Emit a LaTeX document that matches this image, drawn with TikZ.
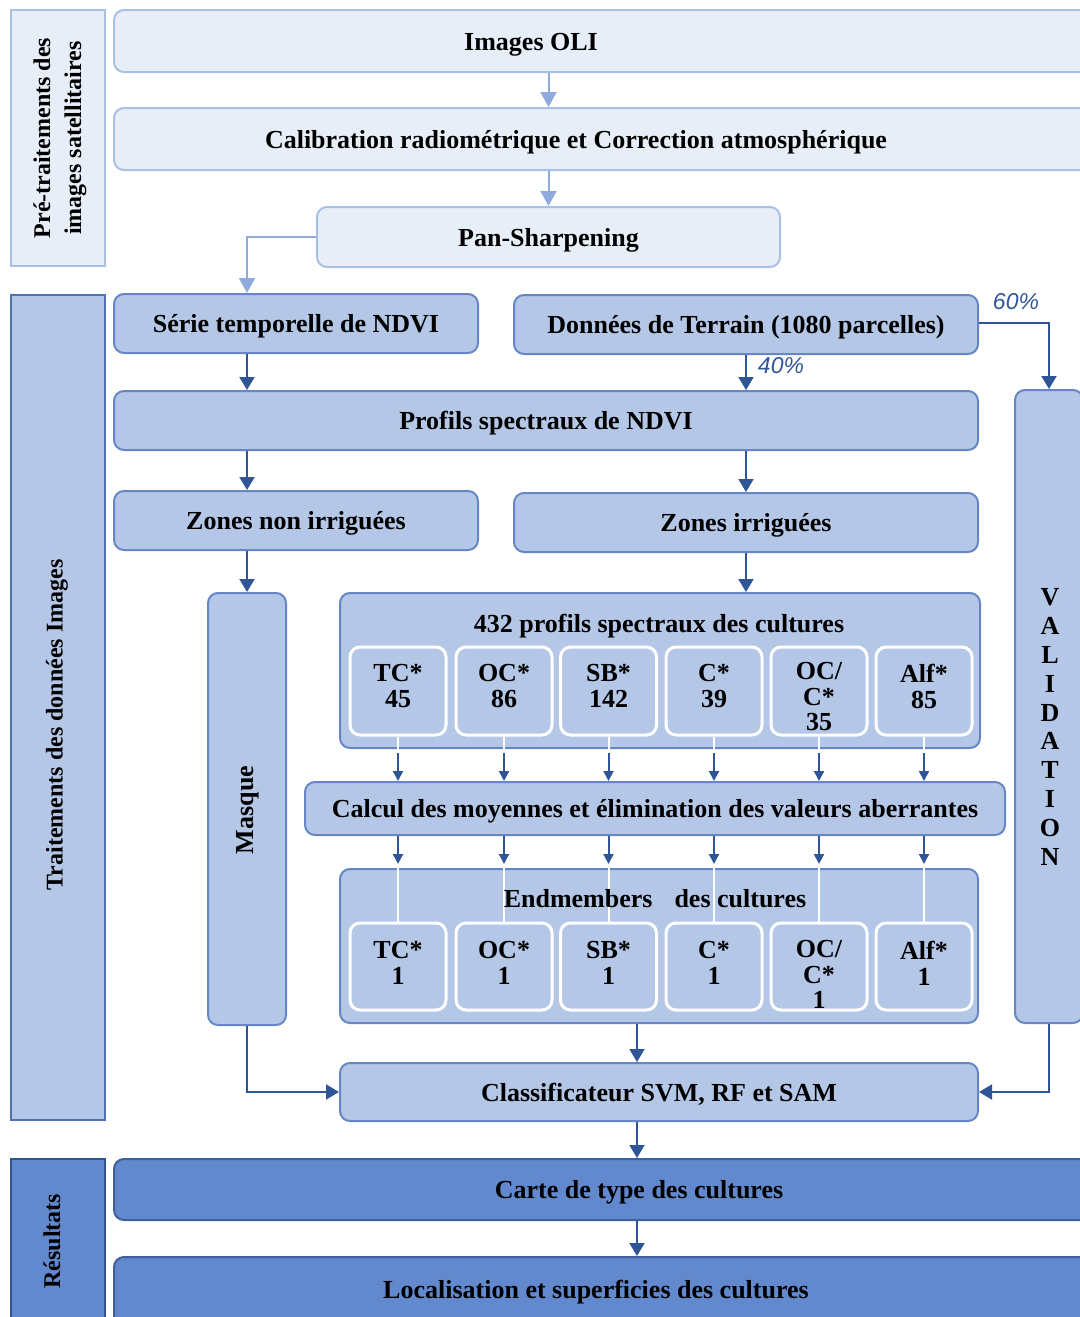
\documentclass[tikz,border=0pt]{standalone}
\usepackage{fontspec}
\setmainfont{Liberation Serif}
\newfontfamily\pctfont{Liberation Sans}
\usetikzlibrary{arrows.meta}

\definecolor{lfill}{HTML}{E8EEF8}
\definecolor{ldraw}{HTML}{A9BFE4}
\definecolor{mfill}{HTML}{B4C7E7}
\definecolor{mdraw}{HTML}{6687C4}
\definecolor{dfill}{HTML}{6289CD}
\definecolor{ddraw}{HTML}{3F5F9E}
\definecolor{larr}{HTML}{8FAADC}
\definecolor{darr}{HTML}{2F5597}
\definecolor{sidem}{HTML}{4F72B0}
\definecolor{sided}{HTML}{34548F}

\begin{document}
\begin{tikzpicture}[x=0.5pt,y=-0.5pt,
  box/.style={rounded corners=5pt, line width=1pt, inner sep=0pt, anchor=center,
    font=\fontsize{13}{13}\selectfont\bfseries, text height=9.5pt, text depth=0.5pt},
  lbox/.style={box, fill=lfill, draw=ldraw},
  mbox/.style={box, fill=mfill, draw=mdraw},
  dbox/.style={box, fill=dfill, draw=ddraw},
  sidebox/.style={line width=1pt, inner sep=0pt},
  crop/.style={rounded corners=5pt, line width=1.5pt, draw=white, fill=mfill,
    minimum width=48pt, inner sep=0pt},
  txt/.style={font=\fontsize{13}{13}\selectfont\bfseries, inner sep=0pt, text height=9.5pt, text depth=0.5pt},
  croptxt/.style={font=\fontsize{13}{12.8}\selectfont\bfseries, inner sep=0pt, align=center, anchor=north},
  sidetxt/.style={font=\fontsize{12}{15.5}\selectfont\bfseries, inner sep=0pt, align=center, rotate=90},
  pct/.style={font=\pctfont\itshape\fontsize{11.5}{11.5}\selectfont, text=darr, inner sep=0pt},
  larrow/.style={draw=larr, line width=1pt, -{Triangle[length=7.5pt,width=8pt]}},
  darrow/.style={draw=darr, line width=1pt, -{Triangle[length=6.5pt,width=7.5pt]}},
  sarrow/.style={draw=darr, line width=1pt, -{Triangle[length=5pt,width=5pt]}},
  wline/.style={draw=white, line width=1pt}]

\useasboundingbox (0,0) rectangle (1080,1317);
\clip (0,0) rectangle (1080,1317);

% ---------- section frames on the left ----------
\node[sidebox, fill=lfill, draw=ldraw, minimum width=47pt, minimum height=128pt] (side1) at (58,138) {};
\node[sidebox, fill=mfill, draw=sidem, minimum width=47pt, minimum height=412.5pt] (side2) at (58,707.5) {};
\node[sidebox, fill=dfill, draw=sided, minimum width=47pt, minimum height=83pt] (side3) at (58,1242) {};
\node[sidetxt] (side1t) at (60,138) {Pré-traitements des\\images satellitaires};
\node[sidetxt] (side2t) at (57,725) {Traitements des données Images};
\node[sidetxt] (side3t) at (52,1241) {Résultats};

% ---------- pre-processing ----------
\node[lbox, minimum width=490.5pt, minimum height=31pt] (oli) at (604.5,41) {};
\node[txt] (olit) at (531,41) {Images OLI};
\node[lbox, minimum width=490.5pt, minimum height=31pt] (cal) at (604.5,139) {};
\node[txt] (calt) at (576,139) {Calibration radiométrique et Correction atmosphérique};
\node[lbox, minimum width=231.5pt, minimum height=30pt] (pan) at (548.5,237) {Pan-Sharpening};

% ---------- image processing ----------
\node[mbox, minimum width=182pt, minimum height=29.5pt] (serie) at (296,323.5) {Série temporelle de NDVI};
\node[mbox, minimum width=232pt, minimum height=29.5pt] (terrain) at (746,324.5) {Données de Terrain (1080 parcelles)};
\node[mbox, minimum width=432pt, minimum height=29.5pt] (prof) at (546,420.5) {Profils spectraux de NDVI};
\node[mbox, minimum width=182pt, minimum height=29.5pt] (zni) at (296,520.5) {Zones non irriguées};
\node[mbox, minimum width=232pt, minimum height=29.5pt] (zi) at (746,522.5) {Zones irriguées};
\node[mbox, minimum width=39pt, minimum height=216pt] (masque) at (247,809) {};
\node[sidetxt, font=\fontsize{13}{13}\selectfont\bfseries] (masquet) at (248,810) {Masque};
\node[mbox, minimum width=34pt, minimum height=316.5pt] (valid) at (1049,706.5) {};
\node[txt, align=center, font=\fontsize{13}{14.4}\selectfont\bfseries, text height=, text depth=] (validt) at (1050,727)
  {V\\A\\L\\I\\D\\A\\T\\I\\O\\N};

\node[mbox, minimum width=320pt, minimum height=77.5pt] (p432) at (660,670.5) {};
\node[mbox, minimum width=350pt, minimum height=26.5pt] (calc) at (655,808.5)
  {Calcul des moyennes et élimination des valeurs aberrantes};
\node[mbox, minimum width=319pt, minimum height=77pt] (endm) at (659,946) {};
\node[mbox, minimum width=319pt, minimum height=29pt] (classif) at (659,1092) {Classificateur SVM, RF et SAM};

% crop boxes: spectral profiles (a) and endmembers (b)
\foreach \i/\x in {1/398,2/504,3/608.5,4/714,5/819,6/924} {
  \node[crop, minimum height=44pt] (a\i) at (\x,691) {};
  \node[crop, minimum height=43.5pt] (b\i) at (\x,966.5) {};
}

% ---------- results ----------
\node[dbox, minimum width=490.5pt, minimum height=30.5pt] (carte) at (604.5,1189.5) {};
\node[txt] (cartet) at (639,1189) {Carte de type des cultures};
\node[dbox, minimum width=490.5pt, minimum height=36.5pt] (loc) at (604.5,1293.5) {};
\node[txt] (loct) at (596,1289) {Localisation et superficies des cultures};

\coordinate (mx) at (637,0);

% ---------- connectors ----------
\draw[larrow] (oli.south -| pan.north) -- (cal.north -| pan.north);
\draw[larrow] (cal.south -| pan.north) -- (pan.north);
\draw[larrow] (pan.west) -| (serie.north -| masque.north);

\draw[darrow] (serie.south -| masque.north) -- (prof.north -| masque.north);
\draw[darrow] (terrain.south) -- (prof.north -| terrain.south);
\draw[darrow] ([yshift=1pt]terrain.east) -| (valid.north);
\draw[darrow] (prof.south -| masque.north) -- (zni.north -| masque.north);
\draw[darrow] (prof.south -| terrain.south) -- (zi.north);
\draw[darrow] (zni.south -| masque.north) -- (masque.north);
\draw[darrow] (zi.south) -- (p432.north -| zi.south);

\foreach \i in {1,...,6} {
  \draw[wline] (a\i.south) -- ([yshift=-2pt]a\i.south |- p432.south);
  \draw[sarrow] ([yshift=-2pt]a\i.south |- p432.south) -- (calc.north -| a\i.south);
  \draw[sarrow] (calc.south -| b\i.north) -- ([yshift=2pt]endm.north -| b\i.north);
  \draw[wline] ([yshift=2pt]endm.north -| b\i.north) -- (b\i.north);
}

\draw[darrow] (endm.south -| mx) -- (classif.north -| mx);
\draw[darrow] (masque.south) |- (classif.west);
\draw[darrow] (valid.south) |- (classif.east);
\draw[darrow] (classif.south -| mx) -- (carte.north -| mx);
\draw[darrow] (carte.south -| mx) -- (loc.north -| mx);

% ---------- labels ----------
\node[pct] (p60) at (1016,302) {60\%};
\node[pct] (p40) at (781,366) {40\%};

\node[txt] (p432t) at (659,623) {432 profils spectraux des cultures};
\node[txt] (endmt) at (655,898) {Endmembers\hspace{11pt}des cultures};

\node[croptxt] (a1t) at (398,664) {TC*\\45};
\node[croptxt] (a2t) at (504,664) {OC*\\86};
\node[croptxt] (a3t) at (608.5,664) {SB*\\142};
\node[croptxt] (a4t) at (714,664) {C*\\39};
\node[croptxt] (a5t) at (819,662) {OC/\\C*\\35};
\node[croptxt] (a6t) at (924,664) {Alf*\\85};

\node[croptxt] (b1t) at (398,941) {TC*\\1};
\node[croptxt] (b2t) at (504,941) {OC*\\1};
\node[croptxt] (b3t) at (608.5,941) {SB*\\1};
\node[croptxt] (b4t) at (714,941) {C*\\1};
\node[croptxt] (b5t) at (819,940) {OC/\\C*\\1};
\node[croptxt] (b6t) at (924,941) {Alf*\\1};

\end{tikzpicture}
\end{document}
